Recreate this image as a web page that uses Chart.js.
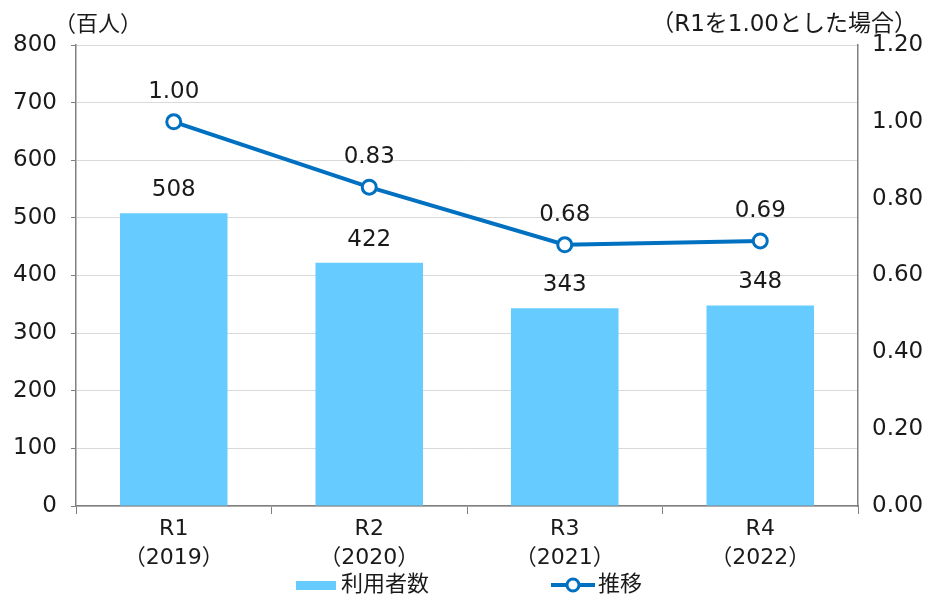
<!DOCTYPE html>
<html>
<head>
<meta charset="utf-8">
<script src="https://cdn.jsdelivr.net/npm/chart.js@4/dist/chart.umd.min.js"></script>
<style>
  html, body { margin: 0; padding: 0; background: #fff; }
  #wrap { width: 935px; height: 597px; }
</style>
</head>
<body>
<div id="wrap"><canvas id="c" width="935" height="597"></canvas></div>
<script>
const categories = [['R1', '（2019）'], ['R2', '（2020）'], ['R3', '（2021）'], ['R4', '（2022）']];
const users = [508, 422, 343, 348];
const trend = [1.00, 0.83, 0.68, 0.69];
const leftTitle = '（百人）';
const rightTitle = '（R1を1.00とした場合）';
const seriesNames = ['利用者数', '推移'];

const FONT = '"DejaVu Sans", "Noto Sans CJK JP", sans-serif';
const FS = 23;
const BAR = '#66CCFF';
const LINE = '#0070C0';
const TXT = '#1a1a1a';

const labelPlugin = {
    id: 'labels',
    afterDatasetsDraw(chart) {
        const ctx = chart.ctx;
        ctx.save();
        ctx.font = FS + 'px ' + FONT;
        ctx.fillStyle = TXT;
        ctx.textAlign = 'center';
        ctx.textBaseline = 'middle';
        chart.getDatasetMeta(0).data.forEach((el, i) => {
            ctx.fillText(String(users[i]), el.x, el.y - 23);
        });
        chart.getDatasetMeta(1).data.forEach((el, i) => {
            ctx.fillText(trend[i].toFixed(2), el.x, el.y - 30);
        });

        // axis titles
        ctx.font = '22px ' + FONT;
        ctx.textAlign = 'left';
        ctx.fillText(leftTitle, 54, 25);
        ctx.textAlign = 'right';
        ctx.font = '23px ' + FONT;
        ctx.fillText(rightTitle, 917, 25);

        // legend
        const ly = 585;
        ctx.font = '22px ' + FONT;
        ctx.textAlign = 'left';
        ctx.fillStyle = BAR;
        ctx.fillRect(296, ly - 4, 40, 9);
        ctx.fillStyle = TXT;
        ctx.fillText(seriesNames[0], 341, ly);
        ctx.strokeStyle = LINE;
        ctx.lineWidth = 4;
        ctx.beginPath();
        ctx.moveTo(551, ly);
        ctx.lineTo(595, ly);
        ctx.stroke();
        ctx.beginPath();
        ctx.arc(573, ly, 6, 0, Math.PI * 2);
        ctx.fillStyle = '#fff';
        ctx.fill();
        ctx.lineWidth = 3;
        ctx.stroke();
        ctx.fillStyle = TXT;
        ctx.fillText(seriesNames[1], 598, ly);
        ctx.restore();
    }
};

new Chart(document.getElementById('c'), {
    type: 'bar',
    data: {
        labels: categories,
        datasets: [
            {
                type: 'bar',
                label: seriesNames[0],
                data: users,
                backgroundColor: BAR,
                categoryPercentage: 0.55,
                barPercentage: 1.0,
                yAxisID: 'y',
                order: 2
            },
            {
                type: 'line',
                label: seriesNames[1],
                data: trend,
                borderColor: LINE,
                borderWidth: 4,
                pointRadius: 7,
                pointBorderWidth: 3,
                pointBackgroundColor: '#fff',
                pointBorderColor: LINE,
                tension: 0,
                yAxisID: 'y1',
                order: 1
            }
        ]
    },
    options: {
        responsive: false,
        animation: false,
        layout: { padding: { top: 45, left: 0, right: 0, bottom: 0 } },
        plugins: { legend: { display: false }, tooltip: { enabled: false } },
        scales: {
            x: {
                grid: { drawOnChartArea: false, color: '#808080', tickLength: 8, offset: true },
                border: { color: '#808080', width: 1.5 },
                ticks: { color: TXT, font: { family: FONT, size: 22, lineHeight: 1.35 }, padding: 0, maxRotation: 0 },
                afterFit(s) { s.height = 91; }
            },
            y: {
                position: 'left',
                min: 0, max: 800,
                ticks: { stepSize: 100, color: TXT, font: { family: FONT, size: FS }, padding: 14 },
                grid: { color: '#d9d9d9', lineWidth: 1, tickColor: '#808080', tickLength: 5 },
                border: { color: '#808080', width: 1.5 },
                afterFit(s) { s.width = 76; }
            },
            y1: {
                position: 'right',
                min: 0, max: 1.2,
                ticks: {
                    stepSize: 0.2, color: TXT, font: { family: FONT, size: FS }, padding: 14,
                    callback: v => v.toFixed(2)
                },
                grid: { drawOnChartArea: false, tickLength: 0 },
                border: { color: '#808080', width: 1.5 },
                afterFit(s) { s.width = 77; }
            }
        }
    },
    plugins: [labelPlugin]
});
</script>
</body>
</html>
